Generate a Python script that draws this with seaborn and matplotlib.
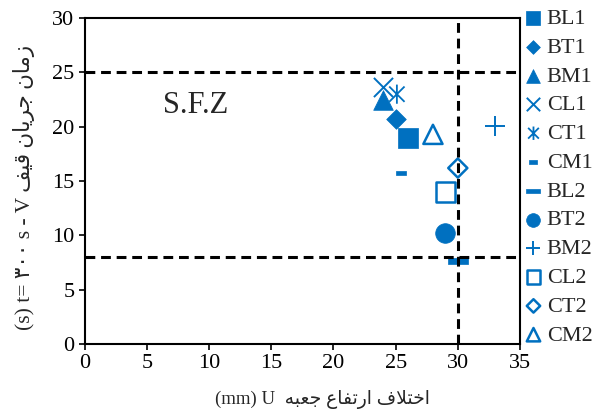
import matplotlib
matplotlib.use("Agg")
import matplotlib.pyplot as plt
import seaborn as sns
from matplotlib.path import Path

# data
labels = ["BL1", "BT1", "BM1", "CL1", "CT1", "CM1",
          "BL2", "BT2", "BM2", "CL2", "CT2", "CM2"]
u_mm = [26.0, 25.0, 24.0, 24.0, 25.1, 25.4,
        30.0, 29.0, 33.0, 29.0, 30.0, 28.0]
t_s = [19.0, 20.7, 22.5, 23.7, 23.0, 15.7,
       7.6, 10.2, 20.1, 14.0, 16.2, 19.3]

# S.F.Z limits
u_limit = 30
t_low, t_high = 8, 25

blue = "#0070C0"

# custom marker shapes
dash_wide = Path([(-1, -0.25), (1, -0.25), (1, 0.25), (-1, 0.25), (-1, -0.25)],
                 [1, 2, 2, 2, 79])
dash_small = Path([(-1, -0.4), (1, -0.4), (1, 0.4), (-1, 0.4), (-1, -0.4)],
                  [1, 2, 2, 2, 79])
star = Path([(0, -1), (0, 1), (-0.8, -0.8), (0.8, 0.8), (-0.8, 0.8), (0.8, -0.8)],
            [1, 2, 1, 2, 1, 2])

# marker, size, filled
styles = {
    "BL1": ("s", 200, True),
    "BT1": ("D", 100, True),
    "BM1": ("^", 200, True),
    "CL1": ("x", 190, None),
    "CT1": (star, 190, "line"),
    "CM1": (dash_small, 60, True),
    "BL2": (dash_wide, 220, True),
    "BT2": ("o", 200, True),
    "BM2": ("+", 190, None),
    "CL2": ("s", 190, False),
    "CT2": ("D", 95, False),
    "CM2": ("^", 190, False),
}

sns.set_style("white")
plt.rcParams["font.family"] = ["Liberation Serif", "DejaVu Sans"]

fig, ax = plt.subplots(figsize=(5.97, 4.12), dpi=100)
fig.subplots_adjust(left=0.142, right=0.871, top=0.956, bottom=0.165)

for name, u, t in zip(labels, u_mm, t_s):
    marker, size, filled = styles[name]
    if filled is True:
        kw = dict(color=blue, edgecolor=blue, linewidth=0.5)
    elif filled is False:
        kw = dict(color=blue, facecolor="none", edgecolor=blue, linewidth=1.8)
    elif filled == "line":
        kw = dict(color=blue, facecolor="none", edgecolor=blue, linewidth=1.3)
    else:
        kw = dict(color=blue, linewidth=1.4)
    sns.scatterplot(x=[u], y=[t], marker=marker, s=size, ax=ax,
                    label=name, zorder=2, legend=False, **kw)

# S.F.Z boundaries
dash = (0, (3.2, 1.9))
ax.axhline(t_high, color="black", lw=2.2, ls=dash, zorder=3)
ax.axhline(t_low, color="black", lw=2.2, ls=dash, zorder=3)
ax.axvline(u_limit, color="black", lw=2.2, ls=dash, zorder=3)

ax.text(6.3, 22.0, "S.F.Z", fontsize=22, va="center", ha="left")

ax.set_xlim(0, 35)
ax.set_ylim(0, 30)
ax.set_xticks(range(0, 36, 5))
ax.set_yticks(range(0, 31, 5))
ax.tick_params(axis="both", labelsize=16, length=4, width=1.2,
               direction="out", left=True, bottom=True, colors="black")
for sp in ax.spines.values():
    sp.set_color("black")
    sp.set_linewidth(1.5)

xlabel = ("(mm) U  " + "\uFEEA\uFE92\uFECC\uFE9F" + " "
          + "\uFEC9\uFE8E\uFED4\uFE97\uFEAD\uFE8D" + " "
          + "\uFED1\uFEFC\uFE98\uFEA7\uFE8D")
ylabel = ("(s) t= \u06F3\u06F0\u06F0 s - V " + "\uFED2\uFEF4\uFED7" + " "
          + "\uFEE5\uFE8E\uFEF3\uFEAE\uFE9F" + " "
          + "\uFEE5\uFE8E\uFEE3\uFEAF")
ax.set_xlabel(xlabel, fontsize=13.5, labelpad=2)
ax.xaxis.set_label_coords(0.545, -0.142)
ax.set_ylabel(ylabel, fontsize=15.5, labelpad=4)
ax.yaxis.set_label_coords(-0.115, 0.48)

handles, names = ax.get_legend_handles_labels()
ax.legend(handles, names, loc="upper left", bbox_to_anchor=(0.875, 0.985),
          bbox_transform=fig.transFigure, frameon=False, fontsize=16,
          markerscale=0.7, handlelength=0.8, handletextpad=0.2,
          labelspacing=0.37, borderpad=0.1, borderaxespad=0)

fig.savefig("out.png", dpi=100)
plt.close(fig)
